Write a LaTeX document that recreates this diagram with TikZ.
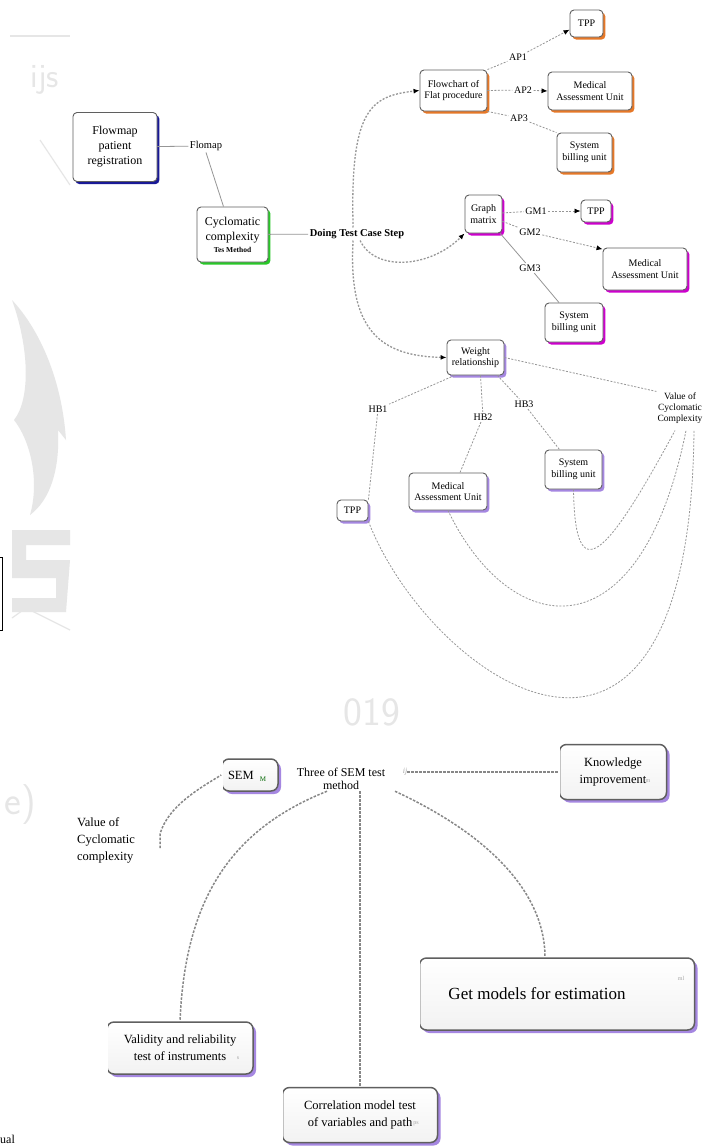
\documentclass[tikz,border=0pt]{standalone}
\usepackage{fontspec}
\setmainfont{Liberation Serif}
\usetikzlibrary{arrows.meta,shadows,calc}
\definecolor{boxline}{RGB}{95,95,95}
\definecolor{shblue}{RGB}{25,25,150}
\definecolor{shgreen}{RGB}{40,200,40}
\definecolor{shorange}{RGB}{230,120,40}
\definecolor{shmagenta}{RGB}{205,0,205}
\definecolor{shviolet}{RGB}{165,135,225}
\definecolor{linkgray}{RGB}{150,150,150}
\definecolor{wmark}{RGB}{230,230,230}
\tikzset{
  box/.style={draw=boxline, line width=0.9pt, rounded corners=4pt, fill=white,
              align=center, inner sep=2pt},
  bigbox/.style={draw=boxline, line width=1.5pt, rounded corners=7pt,
              top color=white, bottom color=gray!10, align=center, inner sep=3pt},
  sh/.style={general shadow={fill=#1, shadow xshift=2.4pt, shadow yshift=-2.6pt}},
  shb/.style={general shadow={fill=#1, shadow xshift=3pt, shadow yshift=-3pt}},
  ften/.style={font=\fontsize{10}{11.5}\selectfont},
  ftwelve/.style={font=\fontsize{12}{15}\selectfont},
  fbot/.style={font=\fontsize{12.5}{17}\selectfont},
  lbl/.style={inner sep=1.5pt, font=\fontsize{10}{11}\selectfont},
  icon/.style={inner sep=0pt, text=gray!70, font=\fontsize{6}{6}\selectfont},
  solidg/.style={draw=linkgray, line width=0.8pt},
  dashg/.style={draw=linkgray, line width=0.8pt, dash pattern=on 2pt off 1.5pt},
  dotg/.style={draw=linkgray, line width=1.3pt, dash pattern=on 2pt off 1.6pt},
  bigdash/.style={draw=linkgray!90!black, line width=1.5pt, dash pattern=on 2.5pt off 1.5pt},
  tip/.style={-{Latex[length=6pt,width=5pt,color=black]}},
  openleft/.style={draw=white, line width=2.6pt}
}
\begin{document}
\begin{tikzpicture}[x=1pt,y=-1pt]
\useasboundingbox[fill=white] (0,0) rectangle (714,1146);

% faint journal watermark on the left
\node[text=wmark, font=\fontsize{34}{34}\sffamily, inner sep=0pt] (wm1) at (45,80) {ijs};
\draw[wmark, line width=1.5pt] (10,36) -- (70,36);
\draw[wmark, line width=1.2pt] (40,140) -- (70,185);
\fill[wmark] (12,300) .. controls (40,330) and (62,380) .. (66,440)
  -- (58,430) .. controls (60,470) and (50,500) .. (30,515)
  .. controls (40,480) and (30,440) .. (14,420)
  .. controls (30,400) and (30,350) .. (12,300) -- cycle;
\fill[wmark] (12,530) -- (70,530) -- (70,545) -- (26,545) -- (26,560) -- (70,560)
  -- (66,612) -- (12,612) -- (12,598) -- (56,598) -- (56,578) -- (12,578) -- cycle;
\draw[wmark, line width=1.2pt] (12,618) -- (26,608) -- (70,630);
\node[text=wmark, font=\fontsize{40}{40}\sffamily, inner sep=0pt] (wm2) at (20,805) {e)};
\node[text=wmark, font=\fontsize{40}{40}\sffamily, inner sep=0pt] (wm3) at (372,712) {019};
\draw[black, line width=1pt] (-6,557) rectangle (2,630);
\node[anchor=south west, inner sep=0pt, font=\fontsize{12}{12}\selectfont] (ual) at (0,1144) {ual};

% ---------- upper map ----------
\node[box, sh=shblue, ftwelve, minimum width=84pt, minimum height=69pt] (fm) at (115,147) {Flowmap\\patient\\registration};
\node[lbl, font=\fontsize{10.5}{11}\selectfont] (flomap) at (206,146) {Flomap};
\node[box, sh=shgreen, ftwelve, minimum width=71pt, minimum height=55pt] (cc) at (232.5,234.5)
  {Cyclomatic\\complexity\\[-3pt]{\fontsize{7.5}{8}\selectfont\bfseries Tes Method}};
\node[lbl, font=\fontsize{10.5}{11}\selectfont\bfseries] (dtcs) at (357,234) {Doing Test Case Step};

\draw[solidg] (fm) -- (flomap);
\draw[solidg] (flomap.south) -- ($(cc.north)+(-9,0)$);
\draw[solidg] (cc) -- (dtcs);

% flowchart branch
\node[box, sh=shorange, ften, minimum width=67pt, minimum height=41pt] (fc) at (453.5,90.5) {Flowchart of\\Flat procedure};
\node[box, sh=shorange, ften, minimum width=33pt, minimum height=27pt] (tpp1) at (586.5,23.5) {TPP};
\node[box, sh=shorange, ften, minimum width=84pt, minimum height=38pt] (mau1) at (590,91) {Medical\\Assessment Unit};
\node[box, sh=shorange, ften, minimum width=55pt, minimum height=39pt] (sbu1) at (584.5,152.5) {System\\billing unit};
\node[lbl] (ap1) at (518,57) {AP1};
\node[lbl] (ap2) at (523,90) {AP2};
\node[lbl] (ap3) at (519,118) {AP3};
\draw[dashg] (fc.north east) -- (ap1);
\draw[dashg, tip] (ap1) -- (tpp1.200);
\draw[dashg] (fc.east) -- (ap2);
\draw[dashg, tip] (ap2) -- (mau1.west);
\draw[dashg] (fc.south east) -- (ap3);
\draw[dashg] (ap3) -- (sbu1.north west);

% graph matrix branch
\node[box, sh=shmagenta, ften, minimum width=37pt, minimum height=38pt] (gm) at (483.5,214) {Graph\\matrix};
\node[box, sh=shmagenta, ften, minimum width=30pt, minimum height=22pt] (tpp2) at (596,211) {TPP};
\node[box, sh=shmagenta, ften, minimum width=84pt, minimum height=42pt] (mau2) at (645,269) {Medical\\Assessment Unit};
\node[box, sh=shmagenta, ften, minimum width=58pt, minimum height=39pt] (sbu2) at (574,322.5) {System\\billing unit};
\node[lbl] (gm1) at (536,211) {GM1};
\node[lbl] (gm2) at (530,232) {GM2};
\node[lbl] (gm3) at (530,268) {GM3};
\draw[dashg] (gm) -- (gm1);
\draw[dashg, tip] (gm1) -- (tpp2);
\draw[dashg] (gm) -- (gm2);
\draw[dashg, tip] (gm2) -- (mau2.155);
\draw[solidg] (gm) -- (gm3);
\draw[solidg] (gm3) -- ($(sbu2.north)+(-15,0)$);

% weight relationship branch
\node[box, sh=shviolet, ften, minimum width=57pt, minimum height=35pt] (wr) at (475.5,357.5) {Weight\\relationship};
\node[box, sh=shviolet, ften, minimum width=31pt, minimum height=21pt] (tpp3) at (352.5,510.5) {TPP};
\node[box, sh=shviolet, ften, minimum width=78pt, minimum height=37pt] (mau3) at (448,491.5) {Medical\\Assessment Unit};
\node[box, sh=shviolet, ften, minimum width=57pt, minimum height=39pt] (sbu3) at (573.5,469.5) {System\\billing unit};
\node[lbl] (hb1) at (378,409) {HB1};
\node[lbl] (hb2) at (483,417) {HB2};
\node[lbl] (hb3) at (524,404) {HB3};
\node[inner sep=1pt, align=center, font=\fontsize{9.5}{11}\selectfont] (vcc) at (680,408) {Value of\\Cyclomatic\\Complexity};
\draw[dashg] ($(wr.south west)+(8,0)$) -- (hb1);
\draw[dashg] (hb1) -- (tpp3.north east);
\draw[dashg] ($(wr.south)+(5,0)$) -- (hb2);
\draw[dashg] (hb2) -- ($(mau3.north)+(12,0)$);
\draw[dashg] ($(wr.south east)+(-7,0)$) -- (hb3);
\draw[dashg] (hb3) -- ($(sbu3.north)+(-14,0)$);
\draw[dashg] (wr.east) -- (vcc.north west);
\draw[dashg] (sbu3.south) .. controls (575,590) and (605,560) .. ($(vcc.south)+(-5,6)$);
\draw[dashg] (mau3.south) .. controls (510,640) and (640,660) .. ($(vcc.south)+(6,6)$);
\draw[dashg] (tpp3.south east) .. controls (430,680) and (690,860) .. ($(vcc.south)+(14,6)$);

% test case step links
\draw[dotg, tip] ($(dtcs.north west)+(45,0)$) .. controls (350,110) and (370,96) .. (fc.west);
\draw[dotg, tip] ($(dtcs.south west)+(52,0)$) .. controls (375,272) and (430,268) .. (gm.south west);
\draw[dotg, tip] ($(dtcs.south west)+(45,0)$) .. controls (348,330) and (380,356) .. (wr.west);

% ---------- lower map ----------
\node[bigbox, shb=shviolet, fbot, minimum width=56pt, minimum height=32pt, align=left, text width=44pt] (sem) at (250,775) {SEM};
\node[icon, text=green!40!black] (semic) at (263,779) {\fontsize{7}{7}\selectfont M};
\node[inner sep=1pt, align=center, font=\fontsize{12}{13.5}\selectfont] (three) at (341,779) {Three of SEM test\\method};
\node[icon, font=\itshape\fontsize{8}{8}\selectfont] (tic) at (405,772) {ij};
\node[bigbox, shb=shviolet, fbot, minimum width=107pt, minimum height=55pt] (ki) at (613,772) {Knowledge\\improvement\hspace{14pt}};
\node[icon] (kic) at (648,781) {m};
\node[inner sep=1pt, align=left, font=\fontsize{12.5}{17}\selectfont] (vcc2) at (106,840) {Value of\\Cyclomatic\\complexity};
\node[bigbox, shb=shviolet, minimum width=275pt, minimum height=72pt, font=\fontsize{17}{20}\selectfont] (gme) at (557,994) {\hspace*{-40pt}Get models for estimation};
\node[icon] (gic) at (681,978) {ml};
\node[bigbox, shb=shviolet, fbot, minimum width=146pt, minimum height=52pt] (val) at (180,1048) {Validity and reliability\\test of instruments\hspace{10pt}};
\node[icon] (vic) at (238,1058) {s};
\node[bigbox, shb=shviolet, fbot, minimum width=155pt, minimum height=55pt] (corr) at (360,1115) {Correlation model test\hspace{12pt}\\of variables and path\hspace{14pt}};
\node[icon] (cic) at (416,1124) {ps};

% open left sides of the lower boxes
\foreach \b in {sem,ki,gme,val,corr}{
  \draw[openleft] ($(\b.north west)+(0,-9)$) -- ($(\b.south west)+(0,9)$);
}

\coordinate (v2) at (160,848);
\draw[bigdash] (v2) -- ++(0,-14) .. controls +(8,-28) and (200,788) .. (sem.west);
\draw[bigdash] ($(three.south)+(-14,0)$) .. controls (230,830) and (185,900) .. (val.north);
\draw[bigdash] (corr.north |- three.south) -- (corr.north);
\draw[bigdash] ($(three.south)+(54,0)$) .. controls (500,840) and (545,900) .. ($(gme.north)+(-12,0)$);
\draw[bigdash] (tic.east) -- (ki.west);
\end{tikzpicture}
\end{document}
